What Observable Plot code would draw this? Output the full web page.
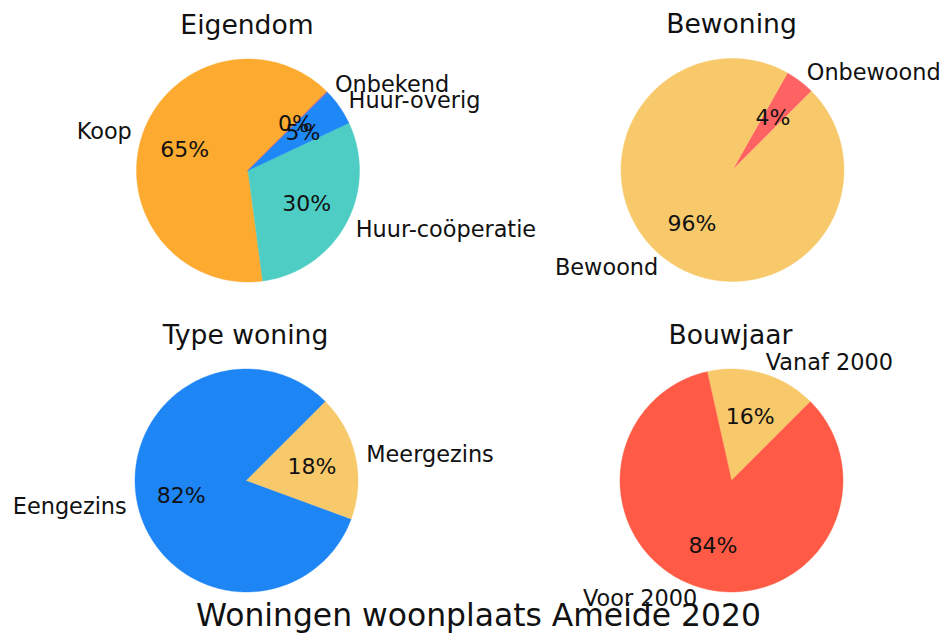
<!DOCTYPE html>
<html>
<head>
<meta charset="utf-8">
<script src="https://cdn.jsdelivr.net/npm/d3@7"></script>
<script src="https://cdn.jsdelivr.net/npm/@observablehq/plot@0.6"></script>
<style>
  html, body { margin: 0; padding: 0; background: #fff; }
  #chart { width: 942px; height: 634px; }
</style>
</head>
<body>
<div id="chart"></div>
<script>
// ---- Data ----
const eigendomLabels = ["Koop", "Huur-coöperatie", "Huur-overig", "Onbekend"];
const eigendomValues = [64.6, 29.9, 5.4, 0.1];
const eigendomColors = ["#FDAB30", "#4ECDC4", "#1E88F6", "#9B59B6"];

const bewoningLabels = ["Onbewoond", "Bewoond"];
const bewoningValues = [4.3, 95.7];
const bewoningColors = ["#FF6262", "#F8C96B"];

const typeLabels = ["Eengezins", "Meergezins"];
const typeValues = [81.9, 18.1];
const typeColors = ["#1E85F5", "#F8C96B"];

const bouwjaarLabels = ["Vanaf 2000", "Voor 2000"];
const bouwjaarValues = [16.0, 84.0];
const bouwjaarColors = ["#F8C96B", "#FF5A45"];

const pieTitles = ["Eigendom", "Bewoning", "Type woning", "Bouwjaar"];
const suptitle = "Woningen woonplaats Ameide 2020";

// ---- Layout (panel positions in the 942x634 frame) ----
const W = 942, H = 634;
const radius = 111.5;
const startAngle = 45; // degrees, counter-clockwise
const panels = [
  {title: pieTitles[0], labels: eigendomLabels, values: eigendomValues, colors: eigendomColors, cx: 247.5, cy: 170},
  {title: pieTitles[1], labels: bewoningLabels, values: bewoningValues, colors: bewoningColors, cx: 732, cy: 169.5},
  {title: pieTitles[2], labels: typeLabels, values: typeValues, colors: typeColors, cx: 246, cy: 480},
  {title: pieTitles[3], labels: bouwjaarLabels, values: bouwjaarValues, colors: bouwjaarColors, cx: 731, cy: 480}
];

const rad = (d) => d * Math.PI / 180;
const polyRows = [], labelRows = [], pctRows = [], titleRows = [];

panels.forEach((p, pi) => {
  const total = d3.sum(p.values);
  let a0 = startAngle;
  titleRows.push({x: p.cx - 1, y: p.cy - 137, text: p.title});
  p.values.forEach((v, i) => {
    const span = v / total * 360;
    const a1 = a0 + span;
    const key = pi + "-" + i;
    const n = Math.max(2, Math.ceil(span));
    polyRows.push({key, x: p.cx, y: p.cy, color: p.colors[i]});
    for (let k = 0; k <= n; k++) {
      const a = rad(a0 + span * k / n);
      polyRows.push({key, x: p.cx + radius * Math.cos(a), y: p.cy - radius * Math.sin(a), color: p.colors[i]});
    }
    polyRows.push({key, x: p.cx, y: p.cy, color: p.colors[i]});
    const mid = rad((a0 + a1) / 2);
    const cosm = Math.cos(mid), sinm = Math.sin(mid);
    labelRows.push({x: p.cx + 1.1 * radius * cosm, y: p.cy - 1.1 * radius * sinm, text: p.labels[i], side: cosm < 0 ? "right" : "left"});
    pctRows.push({x: p.cx + 0.6 * radius * cosm, y: p.cy - 0.6 * radius * sinm, text: Math.round(v / total * 100) + "%"});
    a0 = a1;
  });
});

const chart = Plot.plot({
  width: W,
  height: H,
  margin: 0,
  x: {domain: [0, W], range: [0, W], axis: null},
  y: {domain: [0, H], range: [0, H], axis: null},
  color: {type: "identity"},
  style: {fontFamily: "'DejaVu Sans', sans-serif", background: "#fff", color: "#000"},
  marks: [
    Plot.line(polyRows, {x: "x", y: "y", z: "key", fill: "color", stroke: "color", strokeWidth: 0.4, curve: "linear"}),
    Plot.text(labelRows.filter(d => d.side === "left"), {x: "x", y: "y", text: "text", textAnchor: "start", lineAnchor: "bottom", dy: 7.5, fontSize: 22.4, fill: "#111"}),
    Plot.text(labelRows.filter(d => d.side === "right"), {x: "x", y: "y", text: "text", textAnchor: "end", lineAnchor: "bottom", dy: 7.5, fontSize: 22.4, fill: "#111"}),
    Plot.text(pctRows, {x: "x", y: "y", text: "text", textAnchor: "middle", lineAnchor: "bottom", dy: 8, fontSize: 22, fill: "#111"}),
    Plot.text(titleRows, {x: "x", y: "y", text: "text", textAnchor: "middle", lineAnchor: "bottom", fontSize: 26.6, fill: "#111"}),
    Plot.text([{x: W / 2 + 7, y: 625, text: suptitle}], {x: "x", y: "y", text: "text", textAnchor: "middle", lineAnchor: "bottom", fontSize: 31.4, fill: "#111"})
  ]
});
document.getElementById("chart").appendChild(chart);
</script>
</body>
</html>
